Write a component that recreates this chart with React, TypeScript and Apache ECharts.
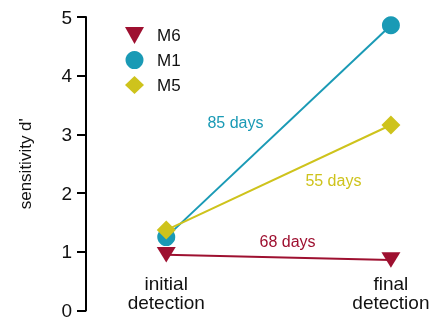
import React, { useEffect, useRef } from "react";
import * as echarts from "echarts";

const stages = ["initial\ndetection", "final\ndetection"];
const stagePos = [0, 1];
const seriesNames = ["M6", "M1", "M5"];
const m6 = [0.95, 0.86];
const m1 = [1.25, 4.86];
const m5 = [1.37, 3.16];
const durations = ["68 days", "85 days", "55 days"];
const durationPos = [
  [0.54, 1.17],
  [0.308, 3.21],
  [0.744, 2.21],
];
const colors = ["#9E1030", "#1A9AB5", "#CEC31C"];
const yTicks = [0, 1, 2, 3, 4, 5];

const FONT = "Liberation Sans, Arial, Helvetica, sans-serif";

export default function App() {
  const ref = useRef<HTMLDivElement>(null);
  useEffect(() => {
    const chart = echarts.init(ref.current!, null, { renderer: "svg" });
    const values = [m6, m1, m5];
    const symbols = [
      "path://M0,0 L20,0 L10,18 Z",
      "circle",
      "diamond",
    ];
    const sizes = [[19, 17], 18, 19];
    const series = seriesNames.map((name, i) => ({
      name,
      type: "line",
      data: stagePos.map((x, j) => [x, values[i][j]]),
      symbol: symbols[i],
      symbolSize: sizes[i],
      symbolKeepAspect: true,
      z: 2 + i,
      lineStyle: { color: colors[i], width: 2 },
      itemStyle: { color: colors[i] },
      markPoint: {
        symbol: "circle",
        symbolSize: 0,
        silent: true,
        data: [
          {
            coord: durationPos[i],
            label: {
              show: true,
              position: "inside",
              formatter: durations[i],
              color: colors[i],
              fontSize: 16,
              fontFamily: FONT,
            },
          },
        ],
      },
    }));
    chart.setOption({
      animation: false,
      grid: { left: 86, right: 11, top: 17, bottom: 8, containLabel: false },
      legend: {
        orient: "vertical",
        left: 120,
        top: 22,
        itemGap: 7,
        itemWidth: 19,
        itemHeight: 18,
        textStyle: {
          fontSize: 17,
          fontFamily: FONT,
          color: "#111",
          padding: [0, 0, 0, 8],
        },
        data: seriesNames.map((n, i) => ({
          name: n,
          icon: symbols[i],
        })),
      },
      xAxis: {
        type: "value",
        min: -80 / 224,
        max: 1 + 31 / 224,
        splitLine: { show: false },
        axisLine: { show: false },
        axisTick: { show: false },
        axisLabel: {
          customValues: stagePos,
          formatter: (v: number) => stages[Math.round(v)],
          margin: -37,
          fontSize: 19,
          lineHeight: 19,
          color: "#111",
          fontFamily: FONT,
          align: "center",
        },
      },
      yAxis: {
        type: "value",
        min: 0,
        max: 5,
        interval: 1,
        name: "sensitivity d'",
        nameLocation: "middle",
        nameGap: 52,
        nameTextStyle: { fontSize: 17, fontFamily: FONT, color: "#111" },
        splitLine: { show: false },
        axisLine: {
          show: true,
          onZero: false,
          lineStyle: { color: "#000", width: 2 },
        },
        axisTick: { show: true, length: 9, lineStyle: { color: "#000", width: 2 } },
        axisLabel: {
          customValues: yTicks,
          fontSize: 19,
          color: "#111",
          fontFamily: FONT,
          margin: 14,
        },
      },
      series,
    });
    return () => chart.dispose();
  }, []);
  return (
    <div
      ref={ref}
      style={{ position: "fixed", left: 0, top: 0, width: 433, height: 320 }}
    />
  );
}
